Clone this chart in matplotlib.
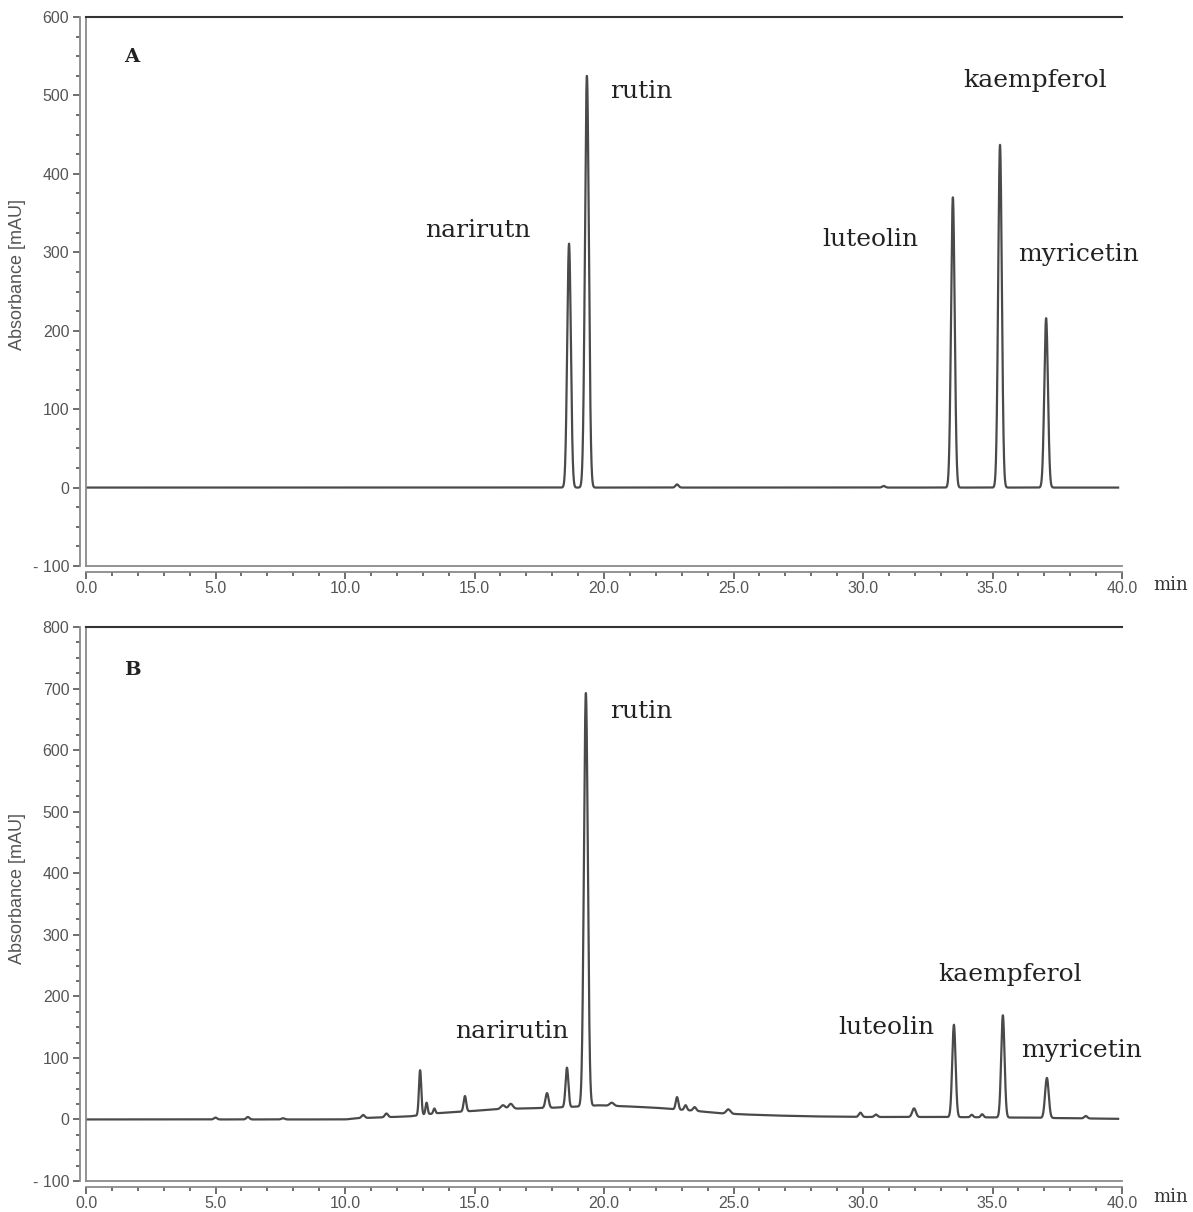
import numpy as np
import matplotlib
matplotlib.use('Agg')
import matplotlib.pyplot as plt
from matplotlib.ticker import MultipleLocator

# ---------------- data ----------------
t_end = 39.85

# Panel A: standard mixture
peaks_A_pos = [18.65, 19.34, 22.82, 30.8, 33.47, 35.29, 37.07]
peaks_A_height = [311, 525, 4, 2, 370, 437, 216]
peaks_A_sigma = [0.07, 0.075, 0.06, 0.06, 0.07, 0.07, 0.07]
base_A_t = [0.0, 39.85]
base_A_v = [0.0, 0.0]

# Panel B: sample
peaks_B_pos = [5.0, 6.25, 7.6, 10.7, 11.6, 12.9, 13.15, 13.45, 14.63, 16.1, 16.4,
               17.8, 18.57, 19.3, 20.3, 22.82, 23.15, 23.5, 24.8, 29.9, 30.5,
               31.97, 33.51, 34.2, 34.6, 35.4, 37.1, 38.6]
peaks_B_height = [3, 4, 2, 5, 6, 73, 19, 8, 25, 6, 8,
                  24, 64, 671, 5, 20, 8, 6, 7, 7, 4,
                  14, 150, 4, 5, 166, 65, 4]
peaks_B_sigma = [0.06, 0.06, 0.06, 0.06, 0.06, 0.045, 0.04, 0.04, 0.05, 0.08, 0.08,
                 0.06, 0.055, 0.075, 0.08, 0.05, 0.05, 0.06, 0.08, 0.06, 0.06,
                 0.07, 0.065, 0.05, 0.05, 0.065, 0.07, 0.06]
base_B_t = [0, 10, 10.5, 12.5, 13.5, 15, 16, 18, 19.0, 19.8, 21, 22, 23.5, 24.5,
            25.5, 26.5, 28, 30, 33, 36, 39.85]
base_B_v = [0, 0, 2, 5, 10, 14, 17, 19, 21, 23, 21, 19, 14, 10,
            8, 6.5, 5, 4, 4, 3, 1]

labels_A = ["narirutn", "rutin", "luteolin", "kaempferol", "myricetin"]
labels_B = ["narirutin", "rutin", "luteolin", "kaempferol", "myricetin"]

yticks_A = [-100, 0, 100, 200, 300, 400, 500, 600]
yticks_B = [-100, 0, 100, 200, 300, 400, 500, 600, 700, 800]
xticks = [0, 5, 10, 15, 20, 25, 30, 35, 40]


def trace(pos, hgt, sig, bt, bv):
    t = np.linspace(0, t_end, 12000)
    y = np.interp(t, bt, bv)
    for p, h, s in zip(pos, hgt, sig):
        y = y + h * np.exp(-0.5 * ((t - p) / s) ** 2)
    return t, y


W, H = 1193, 1212
fig = plt.figure(figsize=(W / 100, H / 100), dpi=100)


def px_axes(l, r, t, b):
    return [l / W, 1 - b / H, (r - l) / W, (b - t) / H]


axA = fig.add_axes(px_axes(86, 1122, 17, 566))
axB = fig.add_axes(px_axes(86, 1122, 627, 1181))

grey = '#8a8a8a'
tickc = '#555555'
sans = 'Liberation Sans'


def style(ax, ymax, yt):
    ax.set_xlim(0, 40)
    ax.set_ylim(-100, ymax)
    ax.spines['right'].set_visible(False)
    ax.spines['top'].set_color('#333333')
    ax.spines['top'].set_linewidth(1.5)
    for s in ['left', 'bottom']:
        ax.spines[s].set_position(('outward', 4))
        ax.spines[s].set_color(grey)
        ax.spines[s].set_linewidth(1.3)
    ax.plot([0, 1], [0, 0], transform=ax.transAxes, color=grey, lw=1.3, clip_on=False)
    ax.plot([0, 0], [0, 1], transform=ax.transAxes, color=grey, lw=1.3, clip_on=False)
    ax.set_xticks(xticks)
    ax.set_xticklabels([f"{v:.1f}" for v in xticks], family=sans)
    ax.xaxis.set_minor_locator(MultipleLocator(1))
    ax.set_yticks(yt)
    ax.set_yticklabels(["- 100" if v < 0 else str(v) for v in yt], family=sans)
    ax.yaxis.set_minor_locator(MultipleLocator(25))
    ax.tick_params(axis='both', which='major', direction='out', length=5, width=1.2,
                   color=tickc, labelcolor='#555555', labelsize=11.5)
    ax.tick_params(axis='both', which='minor', direction='out', length=3, width=1.2, color=tickc)
    ax.tick_params(axis='x', pad=2)
    ax.tick_params(axis='y', pad=3)


tA, yA = trace(peaks_A_pos, peaks_A_height, peaks_A_sigma, base_A_t, base_A_v)
tB, yB = trace(peaks_B_pos, peaks_B_height, peaks_B_sigma, base_B_t, base_B_v)

axA.plot(tA, yA, color='#4a4a4a', lw=1.6)
axB.plot(tB, yB, color='#4a4a4a', lw=1.6)
style(axA, 600, yticks_A)
style(axB, 800, yticks_B)

serif = 'DejaVu Serif'
fs = 18


def ftext(x, y, s, **kw):
    fig.text(x / W, 1 - y / H, s, **kw)


# Panel annotations
posA = [(425, 231), (610, 92), (822, 239), (963, 80), (1018, 255)]
for (x, y), s in zip(posA, labels_A):
    ftext(x, y, s, family=serif, fontsize=fs, ha='left', va='center', color='#222222')
posB = [(455, 1032), (610, 712), (838, 1028), (938, 975), (1021, 1050)]
for (x, y), s in zip(posB, labels_B):
    ftext(x, y, s, family=serif, fontsize=fs, ha='left', va='center', color='#222222')

ftext(124, 57, "A", family=serif, fontsize=14, fontweight='bold', ha='left', va='center', color='#222222')
ftext(124, 670, "B", family=serif, fontsize=14, fontweight='bold', ha='left', va='center', color='#222222')

ftext(1153, 585, "min", family=serif, fontsize=13, ha='left', va='center', color='#333333')
ftext(1153, 1197, "min", family=serif, fontsize=13, ha='left', va='center', color='#333333')

ftext(18, 274, "Absorbance [mAU]", family=sans, fontsize=13, rotation=90, ha='center', va='center', color='#555555')
ftext(18, 888, "Absorbance [mAU]", family=sans, fontsize=13, rotation=90, ha='center', va='center', color='#555555')

fig.savefig('out.png', dpi=100, facecolor='white')
